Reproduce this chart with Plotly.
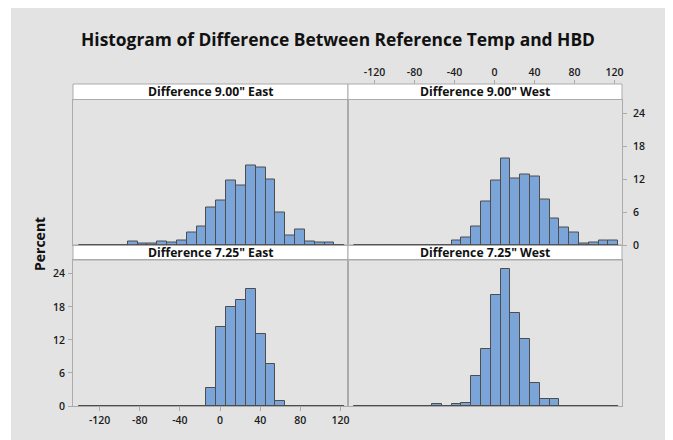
import plotly.graph_objects as go

# ---- data (percent per bin) ----
bin_centers = [-136.0, -126.2, -116.4, -106.6, -96.8, -87.0, -77.2, -67.4, -57.6,
               -47.8, -38.0, -28.2, -18.4, -8.6, 1.2, 11.0, 20.8, 30.6, 40.4,
               50.2, 60.0, 69.8, 79.6, 89.4, 99.2, 109.0, 118.8]
bin_width = 9.8

pct_900_east = [0, 0, 0, 0, 0, 0.7, 0.25, 0.25, 0.7, 0.45, 0.9, 2.2, 3.3, 6.9, 8.1,
                11.8, 10.9, 14.5, 14.2, 12.0, 6.0, 1.8, 2.8, 0.7, 0.5, 0.5, 0]
pct_900_west = [0, 0, 0, 0, 0, 0, 0, 0, 0, 0, 0.75, 1.4, 3.4, 7.9, 11.7, 15.8,
                12.1, 12.8, 12.5, 8.3, 4.8, 3.2, 2.2, 0.3, 0.5, 0.75, 0.75]
pct_725_east = [0, 0, 0, 0, 0, 0, 0, 0, 0, 0, 0, 0, 0, 3.2, 14.4, 18.0, 19.3,
                21.2, 13.1, 7.7, 0.95, 0, 0, 0, 0, 0, 0]
pct_725_west = [0, 0, 0, 0, 0, 0, 0, 0, 0.3, 0, 0.3, 0.55, 5.5, 10.4, 20.1, 24.8,
                16.9, 12.2, 4.2, 1.3, 1.3, 0, 0, 0, 0, 0, 0]

panel_titles = ['Difference 9.00" East', 'Difference 9.00" West',
                'Difference 7.25" East', 'Difference 7.25" West']
x_ticks = [-120, -80, -40, 0, 40, 80, 120]
x_ticktext = ["-120", "-80", "-40", "0", "40", "80", "120"]
y_ticks = [0, 6, 12, 18, 24]

# ---- geometry (page pixels of the reference; the page body adds an 8px offset) ----
OFF = 8
W, H = 673 - OFF, 440 - OFF
PX_L, PX_R, PX_T, PX_B = 73, 622, 84, 406          # plot block in page pixels
ML, MT = PX_L - OFF, PX_T - OFF
MR, MB = W - (PX_R - OFF), H - (PX_B - OFF)
PW = PX_R - PX_L
PH = PX_B - PX_T

def px_x(p):
    return (p - PX_L) / PW

def px_y(p):
    return (PX_B - p) / PH

FONT = "Open Sans"
BAR_FILL = "#7ba4d9"
BAR_LINE = "#4d4d4d"
FRAME = "#ababab"
BG_GRAY = "#e3e3e3"
TXT = "#111111"

xsplit = px_x(348)
y_bot_plot = (px_y(406), px_y(260))
y_bot_strip = (px_y(260), px_y(245))
y_top_plot = (px_y(245), px_y(99.5))
y_top_strip = (px_y(99.5), px_y(84))

x_range = [-146.5, 127.5]
y_range = [0, 26.5]

fig = go.Figure()

panels = [
    (pct_900_east, "x3", "y3"),
    (pct_900_west, "x4", "y4"),
    (pct_725_east, "x", "y"),
    (pct_725_west, "x2", "y2"),
]

edge_lo = bin_centers[0] - bin_width / 2
edge_hi = bin_centers[-1] + bin_width / 2
for vals, xa, ya in panels:
    fig.add_trace(go.Scatter(x=[edge_lo, edge_hi], y=[0, 0], mode="lines",
                             line=dict(color=BAR_LINE, width=1.5),
                             xaxis=xa, yaxis=ya, showlegend=False, hoverinfo="skip"))
    fig.add_trace(go.Bar(x=bin_centers, y=vals, width=bin_width,
                         marker=dict(color=BAR_FILL, line=dict(color=BAR_LINE, width=1)),
                         xaxis=xa, yaxis=ya, showlegend=False))

# empty helper trace so the top tick axis above the strip is drawn
fig.add_trace(go.Scatter(x=[], y=[], xaxis="x5", yaxis="y4", showlegend=False,
                         hoverinfo="skip"))

tickfont = dict(family=FONT, size=10.5, color="#1a1a1a", weight=600)

def xaxis(domain, anchor, labels=False, side="bottom"):
    d = dict(domain=domain, anchor=anchor, range=x_range, showgrid=False, zeroline=False,
             showline=True, mirror=True, linecolor=FRAME, linewidth=1,
             tickvals=x_ticks, ticktext=x_ticktext, side=side, fixedrange=True)
    if labels:
        d.update(ticks="outside", ticklen=4, tickcolor=FRAME, showticklabels=True,
                 tickfont=tickfont)
    else:
        d.update(ticks="", showticklabels=False)
    return d

def yaxis(domain, anchor, labels=False, side="left"):
    d = dict(domain=domain, anchor=anchor, range=y_range, showgrid=False, zeroline=False,
             showline=True, mirror=True, linecolor=FRAME, linewidth=1,
             tickvals=y_ticks, side=side, fixedrange=True)
    if labels:
        d.update(ticks="outside", ticklen=4, tickcolor=FRAME, showticklabels=True,
                 tickfont=tickfont, ticklabelstandoff=4 if side == "right" else 1)
    else:
        d.update(ticks="", showticklabels=False)
    return d

shapes = [dict(type="rect", xref="paper", yref="paper", layer="below",
               x0=px_x(11), x1=px_x(667), y0=px_y(460), y1=px_y(7),
               fillcolor=BG_GRAY, line=dict(width=0))]
annotations = []
strip_boxes = [
    ((0, xsplit), y_top_strip), ((xsplit, 1), y_top_strip),
    ((0, xsplit), y_bot_strip), ((xsplit, 1), y_bot_strip),
]
for title, (xd, yd) in zip(panel_titles, strip_boxes):
    shapes.append(dict(type="rect", xref="paper", yref="paper", layer="below",
                       x0=xd[0], x1=xd[1], y0=yd[0], y1=yd[1],
                       fillcolor="white", line=dict(color=FRAME, width=1)))
    annotations.append(dict(text=title, xref="paper", yref="paper",
                            x=(xd[0] + xd[1]) / 2, y=(yd[0] + yd[1]) / 2,
                            xanchor="center", yanchor="middle", showarrow=False,
                            font=dict(family=FONT, size=12.2, color=TXT, weight="bold")))

annotations.append(dict(text="Percent", xref="paper", yref="paper",
                        x=px_x(39), y=px_y(244), textangle=-90, showarrow=False,
                        xanchor="center", yanchor="middle",
                        font=dict(family=FONT, size=14, color=TXT, weight="bold")))

top_tick_axis = dict(overlaying="x4", anchor="free", position=1.0, side="top",
                     range=x_range, showgrid=False, zeroline=False, showline=False,
                     tickvals=x_ticks, ticktext=x_ticktext, ticks="outside", ticklen=4,
                     tickcolor=FRAME, showticklabels=True, tickfont=tickfont,
                     fixedrange=True)

fig.update_layout(
    width=W, height=H,
    margin=dict(l=ML, r=MR, t=MT, b=MB),
    paper_bgcolor="white", plot_bgcolor="white",
    bargap=0,
    title=dict(text="Histogram of Difference Between Reference Temp and HBD",
               x=(338 - OFF) / W, xanchor="center", y=1 - (40 - OFF) / H, yanchor="middle",
               font=dict(family=FONT, size=17.4, color=TXT, weight="bold")),
    xaxis=xaxis((0, xsplit), "y", labels=True, side="bottom"),
    yaxis=yaxis(y_bot_plot, "x", labels=True, side="left"),
    xaxis2=xaxis((xsplit, 1), "y2"),
    yaxis2=yaxis(y_bot_plot, "x2"),
    xaxis3=xaxis((0, xsplit), "y3"),
    yaxis3=yaxis(y_top_plot, "x3"),
    xaxis4=xaxis((xsplit, 1), "y4"),
    yaxis4=yaxis(y_top_plot, "x4", labels=True, side="right"),
    xaxis5=top_tick_axis,
    shapes=shapes,
    annotations=annotations,
)

fig.write_html("out.html")
